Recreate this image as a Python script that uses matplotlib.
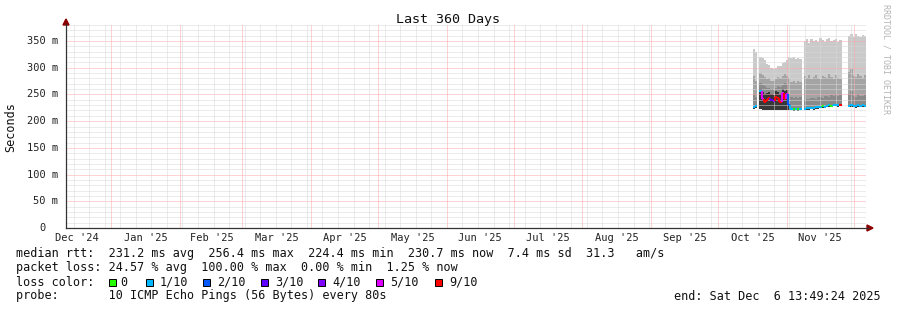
import numpy as np
import matplotlib
matplotlib.use("Agg")
import matplotlib.pyplot as plt
from matplotlib.lines import Line2D
from matplotlib.patches import Polygon, Rectangle
from datetime import datetime, timedelta

# ---------------- data ----------------
END = datetime(2025, 12, 6, 13, 49, 24)
SPAN_DAYS = 360
START = END - timedelta(days=SPAN_DAYS)

TITLE = "Last 360 Days"
Y_LABEL = "Seconds"
Y_MAX = 380
y_major = [0, 50, 100, 150, 200, 250, 300, 350]
y_tick_labels = ["0", "50 m", "100 m", "150 m", "200 m", "250 m", "300 m", "350 m"]
month_starts = [(2024, 12), (2025, 1), (2025, 2), (2025, 3), (2025, 4), (2025, 5),
                (2025, 6), (2025, 7), (2025, 8), (2025, 9), (2025, 10), (2025, 11), (2025, 12)]
month_labels = ["Dec '24", "Jan '25", "Feb '25", "Mar '25", "Apr '25", "May '25",
                "Jun '25", "Jul '25", "Aug '25", "Sep '25", "Oct '25", "Nov '25"]

N = np.nan
# one bin per day, day offset from window start
days = np.arange(309, 360)
smoke_max = [335, 330, N,
             321, 319, 314, 307, 305, 299, 297, 300, 304, 303, 308, 310, 314,
             320, 318, 321, 317, 319, 316, N,
             350, 353, 347, 354, 350, 352, 348, 355, 351, 349, 353, 355, 350, 352, 354, 349, 352,
             N, N, N,
             360, 363, 358, 364, 360, 357, 362, 359]
smoke_hi = [285, 275, N,
            290, 286, 282, 278, 280, 276, 275, 278, 282, 280, 284, 288, 285,
            280, 274, 276, 272, 275, 273, N,
            284, 280, 286, 278, 282, 287, 281, 279, 285, 283, 280, 288, 282, 279, 286, 281, 278,
            N, N, N,
            292, 297, 285, 282, 289, 284, 280, 286]
smoke_mid = [250, 245, N,
             272, 268, 266, 262, 262, 260, 258, 262, 266, 264, 268, 272, 270,
             250, 245, 244, 246, 243, 245, N,
             240, 242, 241, 243, 244, 242, 245, 246, 244, 247, 248, 246, 249, 248, 250, 247, 249,
             N, N, N,
             250, 256, 248, 246, 250, 247, 248, 249]
smoke_dark = [229, 229, N,
              260, 254, 250, 252, 254, 250, 249, 256, 255, 250, 260, 256, 258,
              232, 224, 223, 224, 223, 224, N,
              224, 225, 225, 226, 225, 227, 227, 228, 229, 228, 230, 231, 230, 232, 232, 231, 232,
              N, N, N,
              230, 231, 230, 229, 231, 230, 231, 230]
smoke_min = [223, 224, N,
             222, 221, 220, 220, 221, 221, 220, 221, 221, 220, 220, 221, 220,
             220, 220, 219, 220, 219, 220, N,
             220, 221, 221, 222, 221, 223, 223, 224, 225, 224, 226, 227, 226, 228, 228, 227, 228,
             N, N, N,
             226, 227, 226, 225, 227, 226, 227, 226]
median = [227, 228, N,
          256, 242, 236, 240, 243, 240, 238, 246, 244, 236, 252, 241, 250,
          230, 223, 222, 223, 222, 223, N,
          223, 224, 224, 225, 224, 226, 226, 227, 228, 227, 229, 230, 229, 231, 231, 230, 231,
          N, N, N,
          229, 230, 229, 228, 230, 229, 230, 229]
loss = [1, 1, 0,
        1, 5, 9, 9, 9, 3, 4, 9, 9, 9, 5, 9, 5,
        2, 1, 0, 1, 0, 1, 0,
        1, 1, 1, 1, 1, 1, 1, 1, 0, 1, 1, 1, 0, 1, 1, 1, 9,
        0, 0, 0,
        1, 1, 1, 1, 1, 1, 1, 1]

loss_thresholds = [0, 1, 2, 3, 4, 5, 9]
loss_labels = ["0", "1/10", "2/10", "3/10", "4/10", "5/10", "9/10"]
loss_colors = ["#26ff00", "#00b8ff", "#0059ff", "#5e00ff", "#7e00ff", "#dd00ff", "#ff0000"]

legend_rows = [
    "median rtt:  231.2 ms avg  256.4 ms max  224.4 ms min  230.7 ms now  7.4 ms sd  31.3   am/s",
    "packet loss: 24.57 % avg  100.00 % max  0.00 % min  1.25 % now",
    "loss color:",
    "probe:       10 ICMP Echo Pings (56 Bytes) every 80s",
]
end_text = "end: Sat Dec  6 13:49:24 2025"
watermark = "RRDTOOL / TOBI OETIKER"

# ---------------- layout ----------------
W, H = 897, 310
PX_L, PX_R, PX_B, PX_T = 66, 866, 228, 25
MONO = "DejaVu Sans Mono"

def fx(x):
    return x / W

def fy(y):
    return 1 - y / H

def dnum(dt):
    return (dt - START).total_seconds() / 86400.0

fig = plt.figure(figsize=(W / 100, H / 100), dpi=100, facecolor="white")
ax = fig.add_axes([fx(PX_L), fy(PX_B), (PX_R - PX_L) / W, (PX_B - PX_T) / H])
ax.set_xlim(0, SPAN_DAYS)
ax.set_ylim(0, Y_MAX)
for s in ax.spines.values():
    s.set_visible(False)
ax.set_facecolor("white")

# ---- smoke ----
days = np.asarray(days, float)
arrs = {k: np.asarray(v, float) for k, v in dict(mx=smoke_max, hi=smoke_hi, mid=smoke_mid,
                                                  dk=smoke_dark, mn=smoke_min, med=median).items()}
valid = ~np.isnan(arrs["med"])
runs = []
cur = []
for i, v in enumerate(valid):
    if v:
        cur.append(i)
    elif cur:
        runs.append(cur); cur = []
if cur:
    runs.append(cur)

bands = [("mn", "mx", "#cacaca"), ("mn", "hi", "#a4a4a4"), ("mn", "mid", "#8a8a8a"), ("mn", "dk", "#383838")]
for lo_k, hi_k, col in bands:
    for r in runs:
        r = np.array(r)
        x = np.r_[days[r], days[r[-1]] + 1]
        lo = np.r_[arrs[lo_k][r], arrs[lo_k][r[-1]]]
        hi = np.r_[arrs[hi_k][r], arrs[hi_k][r[-1]]]
        ax.fill_between(x, lo, hi, step="post", color=col, lw=0, zorder=2)

# ---- grid ----
GRID_KW = dict(lw=0.72, linestyle=(0, (1, 1)), zorder=3)
MINOR_C = "#d8d8d8"
MAJOR_C = "#ffa8a8"
for v in range(0, Y_MAX + 1, 10):
    if v == 0:
        continue
    ax.axhline(v, color=MAJOR_C if v % 50 == 0 else MINOR_C, **GRID_KW)
month_pos = [dnum(datetime(y, m, 1)) for y, m in month_starts]
sunday = datetime(2024, 12, 15)
while sunday < END:
    p = dnum(sunday)
    if p > 0 and all(abs(p - q) > 0.5 for q in month_pos):
        ax.axvline(p, color=MINOR_C, **GRID_KW)
    sunday += timedelta(days=7)
for p in month_pos:
    if 0 < p < SPAN_DAYS:
        ax.axvline(p, color=MAJOR_C, **GRID_KW)

# ---- median line coloured by loss ----
def loss_col(k):
    c = loss_colors[0]
    for t, cc in zip(loss_thresholds, loss_colors):
        if k >= t:
            c = cc
    return c

med = arrs["med"]
for i in range(len(days)):
    if np.isnan(med[i]):
        continue
    c = loss_col(loss[i])
    ax.plot([days[i], days[i] + 1], [med[i], med[i]], color=c, lw=1.5,
            solid_capstyle="butt", zorder=4)
    if i > 0 and not np.isnan(med[i - 1]):
        ax.plot([days[i], days[i]], [med[i - 1], med[i]], color=c, lw=1.5,
                solid_capstyle="butt", zorder=4)

# ---- ticks ----
ax.set_yticks([])
ax.set_xticks([])
ytr = ax.get_yaxis_transform()
for v, lab in zip(y_major, y_tick_labels):
    xr = -8 / (PX_R - PX_L) if v > 0 else -20 / (PX_R - PX_L)
    ax.text(xr, v, lab, transform=ytr, ha="right", va="center", family=MONO,
            fontsize=7.5, color="#222222")
xtr = ax.get_xaxis_transform()
for k, lab in enumerate(month_labels):
    y0, m0 = month_starts[k]
    y1, m1 = month_starts[k + 1]
    mid = (dnum(datetime(y0, m0, 1)) + dnum(datetime(y1, m1, 1))) / 2
    ax.text(mid, -5 / (PX_B - PX_T), lab, transform=xtr, ha="center", va="top",
            family=MONO, fontsize=7.5, color="#222222")

# ---- axes lines & arrows ----
AX_COL = "#333333"
ARR_COL = "#8b0000"
fig.add_artist(Line2D([fx(PX_L), fx(868)], [fy(PX_B), fy(PX_B)], color=AX_COL, lw=0.9))
fig.add_artist(Line2D([fx(PX_L), fx(PX_L)], [fy(PX_B), fy(24)], color=AX_COL, lw=0.9))
fig.add_artist(Polygon([[fx(867), fy(PX_B - 3)], [fx(867), fy(PX_B + 3)], [fx(873), fy(PX_B)]],
                       closed=True, color=ARR_COL, transform=fig.transFigure))
fig.add_artist(Polygon([[fx(PX_L - 3), fy(25)], [fx(PX_L + 3), fy(25)], [fx(PX_L), fy(19)]],
                       closed=True, color=ARR_COL, transform=fig.transFigure))

# ---- titles ----
fig.text(fx(448), fy(19), TITLE, ha="center", va="center", family=MONO, fontsize=9.6, color="#111111")
fig.text(fx(11), fy(127), Y_LABEL, ha="center", va="center", rotation=90, family=MONO,
         fontsize=8.5, color="#111111")
fig.text(fx(886), fy(4), watermark, ha="center", va="top", rotation=270, family=MONO,
         fontsize=6.0, color="#b4b4b4")

# ---- legend ----
row_y = [254, 268, 282, 296]
for txt, y in zip(legend_rows, row_y):
    fig.text(fx(16), fy(y), txt, ha="left", va="center", family=MONO, fontsize=8.5, color="#111111")

box_x = [108.5, 145.5, 203, 260.5, 318, 375.5, 434.5]
lab_x = [120.5, 159.5, 217.5, 275.5, 332.5, 390, 449]
for bx, lx, lab, col in zip(box_x, lab_x, loss_labels, loss_colors):
    fig.add_artist(Rectangle((fx(bx), fy(285.5)), 7 / W, 7 / H, transform=fig.transFigure,
                             facecolor=col, edgecolor="#000000", lw=0.7))
    fig.text(fx(lx), fy(282), lab, ha="left", va="center", family=MONO, fontsize=8.5, color="#111111")

fig.text(fx(881), fy(296), end_text, ha="right", va="center", family=MONO, fontsize=8.5, color="#111111")

fig.savefig("out.png", dpi=100, facecolor="white")
